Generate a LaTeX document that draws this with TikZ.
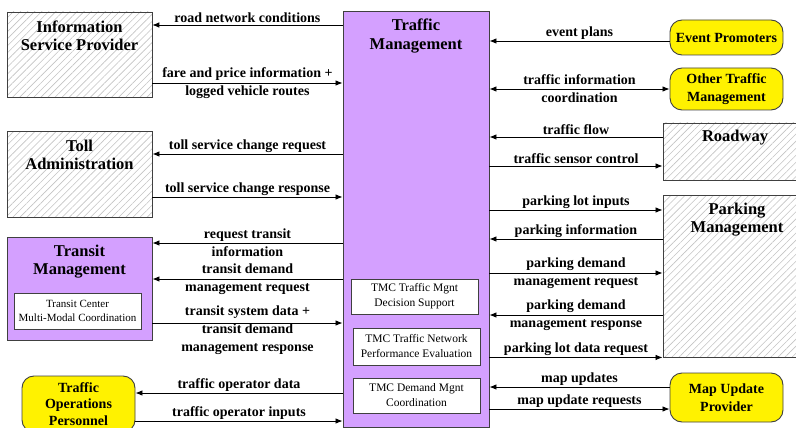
\documentclass[tikz,border=0pt]{standalone}
\usepackage{fontspec}
\setmainfont{Liberation Serif}
\usetikzlibrary{arrows.meta,patterns.meta}
\definecolor{tmlilac}{RGB}{212,160,255}
\definecolor{boxedge}{RGB}{64,64,64}
\definecolor{hatchgray}{RGB}{195,195,195}
\tikzset{%
  sysbox/.style={%
    rectangle,%
    draw=boxedge,%
    line width=0.9pt,%
    inner sep=0pt},
  hatchbox/.style={%
    sysbox,%
    pattern={Lines[angle=45,distance=5pt,line width=0.6pt]},%
    pattern color=hatchgray},
  lilacbox/.style={sysbox,fill=tmlilac},
  ylwbox/.style={%
    sysbox,%
    fill=yellow,%
    rounded corners=12pt,%
    font=\fontsize{14}{17.5}\selectfont\bfseries,%
    align=center},
  subbox/.style={%
    sysbox,%
    fill=white,%
    line width=0.7pt,%
    font=\fontsize{11.5}{15}\selectfont,%
    align=center},
  title/.style={%
    font=\fontsize{16.5}{18.5}\selectfont\bfseries,%
    align=center},
  flow/.style={%
    -{Latex[length=7pt,width=5.5pt]},%
    line width=0.8pt},
  bothflow/.style={%
    flow,%
    {Latex[length=7pt,width=5.5pt]}-{Latex[length=7pt,width=5.5pt]}},
  lbl/.style={%
    font=\fontsize{14}{18}\selectfont\bfseries,%
    align=center,%
    inner sep=1.5pt}
}

\begin{document}
\begin{tikzpicture}[x=1pt,y=-1pt]
  \useasboundingbox (0,0) rectangle (796,428);
  \clip (0,0) rectangle (796,428);

  \node [hatchbox,minimum width=145pt,minimum height=85pt] (isp) at (79.5,54.5) {};
  \node [title] (isp-t) at (79.5,36) {Information\\Service Provider};
  \node [hatchbox,minimum width=145pt,minimum height=86pt] (toll) at (79.5,174) {};
  \node [title] (toll-t) at (79.5,155) {Toll\\Administration};
  \node [lilacbox,minimum width=145pt,minimum height=103pt] (transit) at (79.5,288.5) {};
  \node [title] (transit-t) at (79.5,261.5) {Transit\\Management};
  \node [subbox,minimum width=127pt,minimum height=36pt,
         font=\fontsize{11}{14}\selectfont] (tcmm) at (77.5,311)
        {Transit Center\\Multi-Modal Coordination};
  \node [ylwbox,minimum width=113pt,minimum height=56pt,
         font=\fontsize{14}{16.5}\selectfont\bfseries] (top) at (78.5,404)
        {Traffic\\Operations\\Personnel};

  \node [lilacbox,minimum width=146pt,minimum height=416pt] (tm) at (416,219) {};
  \node [title] (tm-t) at (416,36) {Traffic\\Management};
  \node [subbox,minimum width=127pt,minimum height=35pt] (tmc1) at (414.5,296.5)
        {TMC Traffic Mgnt\\Decision Support};
  \node [subbox,minimum width=127pt,minimum height=37pt] (tmc2) at (416.5,346.5)
        {TMC Traffic Network\\Performance Evaluation};
  \node [subbox,minimum width=127pt,minimum height=35pt] (tmc3) at (416.5,395.5)
        {TMC Demand Mgnt\\Coordination};

  \node [ylwbox,minimum width=113pt,minimum height=35pt] (ep) at (726.5,37.5)
        {Event Promoters};
  \node [ylwbox,minimum width=113pt,minimum height=42pt] (otm) at (726.5,89)
        {Other Traffic\\Management};
  \node [hatchbox,minimum width=147pt,minimum height=57pt] (road) at (736.5,151.5) {};
  \node [title] (road-t) at (735,138) {Roadway};
  \node [hatchbox,minimum width=147pt,minimum height=162pt] (park) at (736.5,276) {};
  \node [title] (park-t) at (737,219.5) {Parking\\Management};
  \node [ylwbox,minimum width=113pt,minimum height=49pt] (mup) at (726.5,397.5)
        {Map Update\\Provider};

  \draw [flow] (tm.west |- 0,25) -- (isp.east |- 0,25)
    node [lbl,midway,above] {road network conditions};
  \draw [flow] (isp.east |- 0,83) -- (tm.west |- 0,83)
    node [lbl,midway] {fare and price information +\\logged vehicle routes};
  \draw [flow] (tm.west |- 0,154) -- (toll.east |- 0,154)
    node [lbl,midway,above] {toll service change request};
  \draw [flow] (toll.east |- 0,197) -- (tm.west |- 0,197)
    node [lbl,midway,above] {toll service change response};
  \draw [flow] (tm.west |- 0,243) -- (transit.east |- 0,243)
    node [lbl,midway] {request transit\\information};
  \draw [flow] (tm.west |- 0,279) -- (transit.east |- 0,279)
    node [lbl,midway] {transit demand\\management request};
  \draw [flow] (transit.east |- 0,323) -- (tm.west |- 0,323)
    node [lbl,midway,yshift=-7pt] {transit system data +\\transit demand\\management response};
  \draw [flow] (tm.west |- 0,393) -- (top.east |- 0,393)
    node [lbl,midway,above] {traffic operator data};
  \draw [flow] (top.east |- 0,421) -- (tm.west |- 0,421)
    node [lbl,midway,above] {traffic operator inputs};

  \draw [flow] (ep.west |- 0,41) -- (tm.east |- 0,41)
    node [lbl,midway,above] {event plans};
  \draw [bothflow] (tm.east |- 0,89) -- (otm.west |- 0,89)
    node [lbl,midway] {traffic information\\coordination};
  \draw [flow] (road.west |- 0,137) -- (tm.east |- 0,137)
    node [lbl,midway,above] {traffic flow};
  \draw [flow] (tm.east |- 0,166) -- (road.west |- 0,166)
    node [lbl,midway,above] {traffic sensor control};
  \draw [flow] (tm.east |- 0,210) -- (park.west |- 0,210)
    node [lbl,midway,above] {parking lot inputs};
  \draw [flow] (park.west |- 0,239) -- (tm.east |- 0,239)
    node [lbl,midway,above] {parking information};
  \draw [flow] (tm.east |- 0,273) -- (park.west |- 0,273)
    node [lbl,midway] {parking demand\\management request};
  \draw [flow] (park.west |- 0,315) -- (tm.east |- 0,315)
    node [lbl,midway] {parking demand\\management response};
  \draw [flow] (tm.east |- park.south west) -- (park.south west)
    node [lbl,midway,above] {parking lot data request};
  \draw [flow] (mup.west |- 0,387) -- (tm.east |- 0,387)
    node [lbl,midway,above] {map updates};
  \draw [flow] (tm.east |- 0,409) -- (mup.west |- 0,409)
    node [lbl,midway,above] {map update requests};
\end{tikzpicture}
\end{document}
